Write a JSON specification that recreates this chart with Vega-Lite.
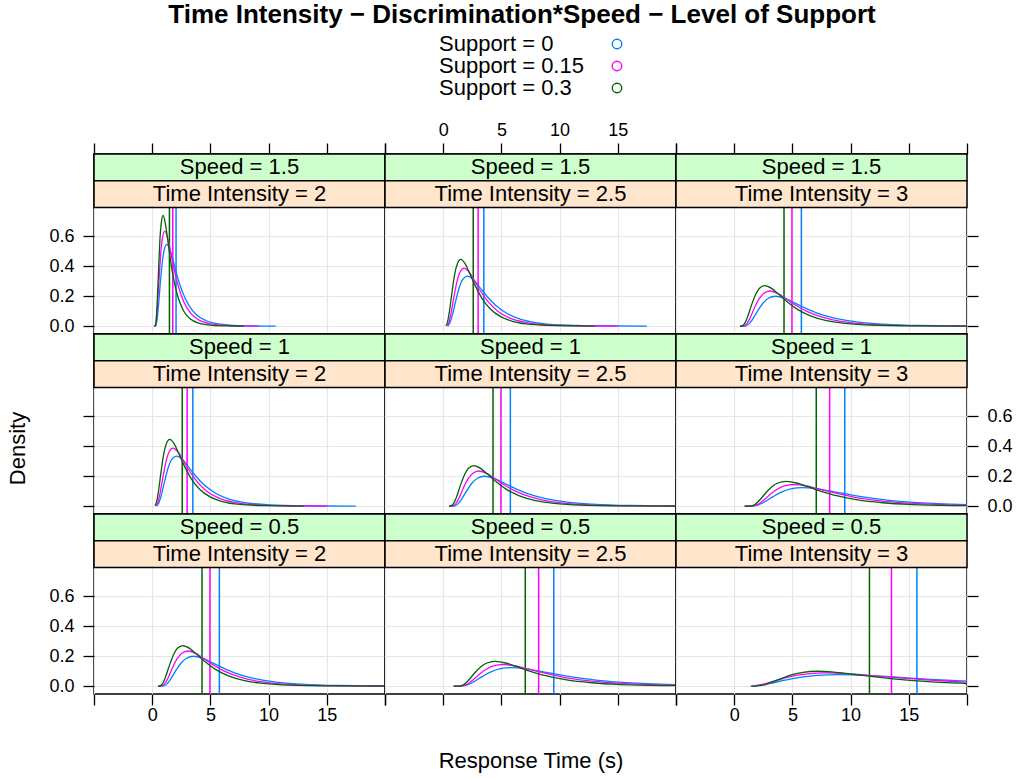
{
"$schema":"https://vega.github.io/schema/vega-lite/v6.json",
"background":"white",
"padding":{"left":5,"top":2,"right":5,"bottom":5},
"title":{"text":"Time Intensity − Discrimination*Speed − Level of Support","fontSize":26,"font":"Liberation Sans","fontWeight":"bold","color":"#000","anchor":"middle","dx":13,"dy":-1},
"datasets":{
"strips":[
{"p":"r0c0","speed":"Speed = 1.5","ti":"Time Intensity = 2"},
{"p":"r0c1","speed":"Speed = 1.5","ti":"Time Intensity = 2.5"},
{"p":"r0c2","speed":"Speed = 1.5","ti":"Time Intensity = 3"},
{"p":"r1c0","speed":"Speed = 1","ti":"Time Intensity = 2"},
{"p":"r1c1","speed":"Speed = 1","ti":"Time Intensity = 2.5"},
{"p":"r1c2","speed":"Speed = 1","ti":"Time Intensity = 3"},
{"p":"r2c0","speed":"Speed = 0.5","ti":"Time Intensity = 2"},
{"p":"r2c1","speed":"Speed = 0.5","ti":"Time Intensity = 2.5"},
{"p":"r2c2","speed":"Speed = 0.5","ti":"Time Intensity = 3"}
],
"means":[
{"g":"A","s":"Support = 0","x":2.05},{"g":"A","s":"Support = 0.15","x":1.77},{"g":"A","s":"Support = 0.3","x":1.48},
{"g":"B","s":"Support = 0","x":3.49},{"g":"B","s":"Support = 0.15","x":3.0},{"g":"B","s":"Support = 0.3","x":2.58},
{"g":"C","s":"Support = 0","x":5.77},{"g":"C","s":"Support = 0.15","x":4.96},{"g":"C","s":"Support = 0.3","x":4.28},
{"g":"D","s":"Support = 0","x":9.5},{"g":"D","s":"Support = 0.15","x":8.2},{"g":"D","s":"Support = 0.3","x":7.05},
{"g":"E","s":"Support = 0","x":15.7},{"g":"E","s":"Support = 0.15","x":13.51},{"g":"E","s":"Support = 0.3","x":11.62}
],
"curves":[
{"g":"A","s":"Support = 0","x":[0.16,0.30,0.41,0.52,0.69,0.86,1.03,1.25,1.53,1.81,2.14,2.59,3.15,3.82,4.60,5.72,7.39,9.63,10.6],"y":[0,0.004,0.038,0.118,0.280,0.422,0.509,0.546,0.509,0.435,0.338,0.230,0.139,0.075,0.038,0.015,0.004,0.001,0.001]},
{"g":"A","s":"Support = 0.15","x":[0.16,0.26,0.36,0.45,0.60,0.74,0.89,1.08,1.32,1.56,1.85,2.24,2.72,3.30,3.97,4.94,6.38,8.31,9.1],"y":[0,0.004,0.044,0.137,0.326,0.491,0.592,0.635,0.592,0.505,0.393,0.268,0.161,0.088,0.044,0.017,0.005,0.001,0.001]},
{"g":"A","s":"Support = 0.3","x":[0.16,0.28,0.35,0.43,0.55,0.66,0.78,0.93,1.12,1.31,1.54,1.85,2.24,2.70,3.23,4.00,5.15,6.69,7.9],"y":[0,0.005,0.051,0.160,0.380,0.572,0.690,0.74,0.690,0.589,0.458,0.312,0.188,0.102,0.051,0.020,0.006,0.0015,0.0005]},
{"g":"B","s":"Support = 0","x":[0.38,0.58,0.78,1.08,1.38,1.68,2.08,2.58,3.08,3.68,4.48,5.48,6.67,8.07,10.07,13.06,17.06,17.5],"y":[0,0.023,0.072,0.171,0.258,0.312,0.334,0.312,0.266,0.207,0.141,0.085,0.046,0.023,0.009,0.003,0.001,0.001]},
{"g":"B","s":"Support = 0.15","x":[0.33,0.50,0.67,0.93,1.19,1.45,1.79,2.22,2.65,3.16,3.85,4.71,5.74,6.94,8.66,11.24,14.68,15.06],"y":[0.003,0.027,0.084,0.199,0.300,0.362,0.388,0.362,0.309,0.240,0.164,0.099,0.054,0.027,0.010,0.003,0.001,0.001]},
{"g":"B","s":"Support = 0.3","x":[0.23,0.38,0.53,0.76,0.98,1.21,1.51,1.89,2.26,2.72,3.32,4.07,4.98,6.03,7.54,9.80,12.82,13.0],"y":[0.003,0.031,0.096,0.229,0.345,0.416,0.446,0.416,0.355,0.276,0.188,0.113,0.062,0.031,0.012,0.004,0.001,0.001]},
{"g":"C","s":"Support = 0","x":[0.5,0.94,1.25,1.55,2.02,2.48,2.94,3.56,4.33,5.10,6.03,7.26,8.81,10.66,12.82,15.91,20.54],"y":[0,0.001,0.014,0.043,0.103,0.155,0.187,0.20,0.187,0.159,0.124,0.084,0.051,0.028,0.014,0.005,0.002]},
{"g":"C","s":"Support = 0.15","x":[0.5,0.80,1.07,1.34,1.73,2.13,2.53,3.06,3.72,4.39,5.18,6.25,7.57,9.16,11.02,13.68,17.66,22.97],"y":[0,0.002,0.016,0.051,0.121,0.182,0.219,0.235,0.219,0.187,0.145,0.099,0.060,0.032,0.016,0.006,0.002,0.0005]},
{"g":"C","s":"Support = 0.3","x":[0.5,0.67,0.90,1.13,1.48,1.82,2.17,2.63,3.21,3.78,4.47,5.40,6.55,7.93,9.54,11.85,15.30,19.91,27.97],"y":[0,0.002,0.019,0.059,0.139,0.209,0.253,0.271,0.253,0.216,0.168,0.114,0.069,0.037,0.019,0.007,0.002,0.0005,0.0001]},
{"g":"D","s":"Support = 0","x":[0.9,1.56,2.07,2.57,3.34,4.10,4.86,5.87,7.14,8.41,9.93,11.95,14.49,17.53,21.08],"y":[0,0.001,0.009,0.027,0.064,0.096,0.116,0.124,0.116,0.099,0.077,0.052,0.031,0.017,0.009]},
{"g":"D","s":"Support = 0.15","x":[0.9,1.53,1.96,2.38,3.02,3.66,4.30,5.15,6.22,7.28,8.56,10.26,12.39,14.95,17.93,22.19],"y":[0,0.001,0.010,0.031,0.074,0.112,0.135,0.145,0.135,0.115,0.090,0.061,0.037,0.020,0.010,0.004]},
{"g":"D","s":"Support = 0.3","x":[0.9,1.41,1.77,2.13,2.67,3.21,3.75,4.47,5.37,6.27,7.35,8.79,10.60,12.76,15.28,18.88,24.29],"y":[0,0.001,0.011,0.036,0.085,0.128,0.155,0.166,0.155,0.132,0.103,0.070,0.042,0.023,0.011,0.004,0.001]},
{"g":"E","s":"Support = 0","x":[1.6,2.02,2.96,4.36,5.75,7.15,9.02,11.35,13.69,16.48,20.22],"y":[0,0.005,0.017,0.040,0.060,0.073,0.078,0.073,0.062,0.048,0.033]},
{"g":"E","s":"Support = 0.15","x":[1.5,1.96,2.75,3.93,5.11,6.30,7.87,9.84,11.81,14.17,17.32,21.26],"y":[0,0.006,0.019,0.046,0.069,0.083,0.089,0.083,0.071,0.055,0.038,0.023]},
{"g":"E","s":"Support = 0.3","x":[1.42,1.84,2.47,3.09,4.03,4.97,5.90,7.15,8.71,10.27,12.14,14.64,17.76,21.51],"y":[0,0.001,0.007,0.022,0.051,0.077,0.093,0.10,0.093,0.080,0.062,0.042,0.025,0.014]}
]
},
"columns":3,
"spacing":0,
"bounds":"flush",
"concat":[
{"width":291,"height":180,"layer":[
{"data":{"name":"means"},"transform":[{"filter":"datum.g=='A'"}],"mark":{"type":"rule","strokeWidth":1.5},"encoding":{"x":{"field":"x","type":"quantitative","scale":{"domain":[-5,20],"nice":false,"zero":false},"axis":{"orient":"top","values":[-5,0,5,10,15,20],"labels":false,"grid":true,"title":null}},"color":{"field":"s","type":"nominal","scale":{"domain":["Support = 0","Support = 0.15","Support = 0.3"],"range":["#0080ff","#ff00ff","#006400"]},"legend":{"title":null}}}},
{"data":{"name":"curves"},"transform":[{"filter":"datum.g=='A'"},{"flatten":["x","y"]}],"mark":{"type":"line","interpolate":"monotone","clip":true,"strokeWidth":1.3},"encoding":{"x":{"field":"x","type":"quantitative","scale":{"domain":[-5,20],"nice":false,"zero":false},"axis":{"orient":"top","values":[-5,0,5,10,15,20],"labels":false,"grid":true,"title":null}},"y":{"field":"y","type":"quantitative","scale":{"domain":[-0.052,1.15],"nice":false,"zero":false},"axis":{"orient":"left","values":[0,0.2,0.4,0.6],"format":".1f","grid":true,"title":null}},"color":{"field":"s","type":"nominal","scale":{"domain":["Support = 0","Support = 0.15","Support = 0.3"],"range":["#0080ff","#ff00ff","#006400"]},"legend":{"title":null}}}},
{"data":{"name":"strips"},"transform":[{"filter":"datum.p=='r0c0'"}],"mark":{"type":"rect","fill":"#ccffcc","stroke":"#000","strokeWidth":1.5},"encoding":{"x":{"datum":-5},"x2":{"datum":20},"y":{"datum":0.9716},"y2":{"datum":1.15}}},
{"data":{"name":"strips"},"transform":[{"filter":"datum.p=='r0c0'"}],"mark":{"type":"rect","fill":"#ffe5cc","stroke":"#000","strokeWidth":1.5},"encoding":{"x":{"datum":-5},"x2":{"datum":20},"y":{"datum":0.793},"y2":{"datum":0.9716}}},
{"data":{"name":"strips"},"transform":[{"filter":"datum.p=='r0c0'"}],"mark":{"type":"text","fontSize":22,"baseline":"middle","color":"#000"},"encoding":{"x":{"datum":7.5},"y":{"datum":1.0608},"text":{"field":"speed"}}},
{"data":{"name":"strips"},"transform":[{"filter":"datum.p=='r0c0'"}],"mark":{"type":"text","fontSize":22,"baseline":"middle","color":"#000"},"encoding":{"x":{"datum":7.5},"y":{"datum":0.8823},"text":{"field":"ti"}}}
]},
{"width":291,"height":180,"layer":[
{"data":{"name":"means"},"transform":[{"filter":"datum.g=='B'"}],"mark":{"type":"rule","strokeWidth":1.5},"encoding":{"x":{"field":"x","type":"quantitative","scale":{"domain":[-5,20],"nice":false,"zero":false},"axis":{"orient":"top","values":[-5,0,5,10,15,20],"labelExpr":"datum.value < -1 || datum.value > 19 ? '' : datum.label","labelPadding":4,"grid":true,"title":null}},"color":{"field":"s","type":"nominal","scale":{"domain":["Support = 0","Support = 0.15","Support = 0.3"],"range":["#0080ff","#ff00ff","#006400"]},"legend":{"title":null}}}},
{"data":{"name":"curves"},"transform":[{"filter":"datum.g=='B'"},{"flatten":["x","y"]}],"mark":{"type":"line","interpolate":"monotone","clip":true,"strokeWidth":1.3},"encoding":{"x":{"field":"x","type":"quantitative","scale":{"domain":[-5,20],"nice":false,"zero":false},"axis":{"orient":"top","values":[-5,0,5,10,15,20],"labelExpr":"datum.value < -1 || datum.value > 19 ? '' : datum.label","labelPadding":4,"grid":true,"title":null}},"y":{"field":"y","type":"quantitative","scale":{"domain":[-0.052,1.15],"nice":false,"zero":false},"axis":{"values":[0,0.2,0.4,0.6],"labels":false,"ticks":false,"grid":true,"title":null}},"color":{"field":"s","type":"nominal","scale":{"domain":["Support = 0","Support = 0.15","Support = 0.3"],"range":["#0080ff","#ff00ff","#006400"]},"legend":{"title":null}}}},
{"data":{"name":"strips"},"transform":[{"filter":"datum.p=='r0c1'"}],"mark":{"type":"rect","fill":"#ccffcc","stroke":"#000","strokeWidth":1.5},"encoding":{"x":{"datum":-5},"x2":{"datum":20},"y":{"datum":0.9716},"y2":{"datum":1.15}}},
{"data":{"name":"strips"},"transform":[{"filter":"datum.p=='r0c1'"}],"mark":{"type":"rect","fill":"#ffe5cc","stroke":"#000","strokeWidth":1.5},"encoding":{"x":{"datum":-5},"x2":{"datum":20},"y":{"datum":0.793},"y2":{"datum":0.9716}}},
{"data":{"name":"strips"},"transform":[{"filter":"datum.p=='r0c1'"}],"mark":{"type":"text","fontSize":22,"baseline":"middle","color":"#000"},"encoding":{"x":{"datum":7.5},"y":{"datum":1.0608},"text":{"field":"speed"}}},
{"data":{"name":"strips"},"transform":[{"filter":"datum.p=='r0c1'"}],"mark":{"type":"text","fontSize":22,"baseline":"middle","color":"#000"},"encoding":{"x":{"datum":7.5},"y":{"datum":0.8823},"text":{"field":"ti"}}}
]},
{"width":291,"height":180,"layer":[
{"data":{"name":"means"},"transform":[{"filter":"datum.g=='C'"}],"mark":{"type":"rule","strokeWidth":1.5},"encoding":{"x":{"field":"x","type":"quantitative","scale":{"domain":[-5,20],"nice":false,"zero":false},"axis":{"orient":"top","values":[-5,0,5,10,15,20],"labels":false,"grid":true,"title":null}},"color":{"field":"s","type":"nominal","scale":{"domain":["Support = 0","Support = 0.15","Support = 0.3"],"range":["#0080ff","#ff00ff","#006400"]},"legend":{"title":null}}}},
{"data":{"name":"curves"},"transform":[{"filter":"datum.g=='C'"},{"flatten":["x","y"]}],"mark":{"type":"line","interpolate":"monotone","clip":true,"strokeWidth":1.3},"encoding":{"x":{"field":"x","type":"quantitative","scale":{"domain":[-5,20],"nice":false,"zero":false},"axis":{"orient":"top","values":[-5,0,5,10,15,20],"labels":false,"grid":true,"title":null}},"y":{"field":"y","type":"quantitative","scale":{"domain":[-0.052,1.15],"nice":false,"zero":false},"axis":{"orient":"right","values":[0,0.2,0.4,0.6],"labels":false,"grid":true,"title":null}},"color":{"field":"s","type":"nominal","scale":{"domain":["Support = 0","Support = 0.15","Support = 0.3"],"range":["#0080ff","#ff00ff","#006400"]},"legend":{"title":null}}}},
{"data":{"name":"strips"},"transform":[{"filter":"datum.p=='r0c2'"}],"mark":{"type":"rect","fill":"#ccffcc","stroke":"#000","strokeWidth":1.5},"encoding":{"x":{"datum":-5},"x2":{"datum":20},"y":{"datum":0.9716},"y2":{"datum":1.15}}},
{"data":{"name":"strips"},"transform":[{"filter":"datum.p=='r0c2'"}],"mark":{"type":"rect","fill":"#ffe5cc","stroke":"#000","strokeWidth":1.5},"encoding":{"x":{"datum":-5},"x2":{"datum":20},"y":{"datum":0.793},"y2":{"datum":0.9716}}},
{"data":{"name":"strips"},"transform":[{"filter":"datum.p=='r0c2'"}],"mark":{"type":"text","fontSize":22,"baseline":"middle","color":"#000"},"encoding":{"x":{"datum":7.5},"y":{"datum":1.0608},"text":{"field":"speed"}}},
{"data":{"name":"strips"},"transform":[{"filter":"datum.p=='r0c2'"}],"mark":{"type":"text","fontSize":22,"baseline":"middle","color":"#000"},"encoding":{"x":{"datum":7.5},"y":{"datum":0.8823},"text":{"field":"ti"}}}
]},
{"width":291,"height":180,"layer":[
{"data":{"name":"means"},"transform":[{"filter":"datum.g=='B'"}],"mark":{"type":"rule","strokeWidth":1.5},"encoding":{"x":{"field":"x","type":"quantitative","scale":{"domain":[-5,20],"nice":false,"zero":false},"axis":{"values":[-5,0,5,10,15,20],"labels":false,"ticks":false,"grid":true,"title":null}},"color":{"field":"s","type":"nominal","scale":{"domain":["Support = 0","Support = 0.15","Support = 0.3"],"range":["#0080ff","#ff00ff","#006400"]},"legend":{"title":null}}}},
{"data":{"name":"curves"},"transform":[{"filter":"datum.g=='B'"},{"flatten":["x","y"]}],"mark":{"type":"line","interpolate":"monotone","clip":true,"strokeWidth":1.3},"encoding":{"x":{"field":"x","type":"quantitative","scale":{"domain":[-5,20],"nice":false,"zero":false},"axis":{"values":[-5,0,5,10,15,20],"labels":false,"ticks":false,"grid":true,"title":null}},"y":{"field":"y","type":"quantitative","scale":{"domain":[-0.052,1.15],"nice":false,"zero":false},"axis":{"orient":"left","values":[0,0.2,0.4,0.6],"labels":false,"grid":true,"title":"Density","titleFontSize":22,"titleFontWeight":"normal","titleX":-70,"titleY":114,"titleAngle":270,"titleBaseline":"alphabetic","titleAlign":"center"}},"color":{"field":"s","type":"nominal","scale":{"domain":["Support = 0","Support = 0.15","Support = 0.3"],"range":["#0080ff","#ff00ff","#006400"]},"legend":{"title":null}}}},
{"data":{"name":"strips"},"transform":[{"filter":"datum.p=='r1c0'"}],"mark":{"type":"rect","fill":"#ccffcc","stroke":"#000","strokeWidth":1.5},"encoding":{"x":{"datum":-5},"x2":{"datum":20},"y":{"datum":0.9716},"y2":{"datum":1.15}}},
{"data":{"name":"strips"},"transform":[{"filter":"datum.p=='r1c0'"}],"mark":{"type":"rect","fill":"#ffe5cc","stroke":"#000","strokeWidth":1.5},"encoding":{"x":{"datum":-5},"x2":{"datum":20},"y":{"datum":0.793},"y2":{"datum":0.9716}}},
{"data":{"name":"strips"},"transform":[{"filter":"datum.p=='r1c0'"}],"mark":{"type":"text","fontSize":22,"baseline":"middle","color":"#000"},"encoding":{"x":{"datum":7.5},"y":{"datum":1.0608},"text":{"field":"speed"}}},
{"data":{"name":"strips"},"transform":[{"filter":"datum.p=='r1c0'"}],"mark":{"type":"text","fontSize":22,"baseline":"middle","color":"#000"},"encoding":{"x":{"datum":7.5},"y":{"datum":0.8823},"text":{"field":"ti"}}}
]},
{"width":291,"height":180,"layer":[
{"data":{"name":"means"},"transform":[{"filter":"datum.g=='C'"}],"mark":{"type":"rule","strokeWidth":1.5},"encoding":{"x":{"field":"x","type":"quantitative","scale":{"domain":[-5,20],"nice":false,"zero":false},"axis":{"values":[-5,0,5,10,15,20],"labels":false,"ticks":false,"grid":true,"title":null}},"color":{"field":"s","type":"nominal","scale":{"domain":["Support = 0","Support = 0.15","Support = 0.3"],"range":["#0080ff","#ff00ff","#006400"]},"legend":{"title":null}}}},
{"data":{"name":"curves"},"transform":[{"filter":"datum.g=='C'"},{"flatten":["x","y"]}],"mark":{"type":"line","interpolate":"monotone","clip":true,"strokeWidth":1.3},"encoding":{"x":{"field":"x","type":"quantitative","scale":{"domain":[-5,20],"nice":false,"zero":false},"axis":{"values":[-5,0,5,10,15,20],"labels":false,"ticks":false,"grid":true,"title":null}},"y":{"field":"y","type":"quantitative","scale":{"domain":[-0.052,1.15],"nice":false,"zero":false},"axis":{"values":[0,0.2,0.4,0.6],"labels":false,"ticks":false,"grid":true,"title":null}},"color":{"field":"s","type":"nominal","scale":{"domain":["Support = 0","Support = 0.15","Support = 0.3"],"range":["#0080ff","#ff00ff","#006400"]},"legend":{"title":null}}}},
{"data":{"name":"strips"},"transform":[{"filter":"datum.p=='r1c1'"}],"mark":{"type":"rect","fill":"#ccffcc","stroke":"#000","strokeWidth":1.5},"encoding":{"x":{"datum":-5},"x2":{"datum":20},"y":{"datum":0.9716},"y2":{"datum":1.15}}},
{"data":{"name":"strips"},"transform":[{"filter":"datum.p=='r1c1'"}],"mark":{"type":"rect","fill":"#ffe5cc","stroke":"#000","strokeWidth":1.5},"encoding":{"x":{"datum":-5},"x2":{"datum":20},"y":{"datum":0.793},"y2":{"datum":0.9716}}},
{"data":{"name":"strips"},"transform":[{"filter":"datum.p=='r1c1'"}],"mark":{"type":"text","fontSize":22,"baseline":"middle","color":"#000"},"encoding":{"x":{"datum":7.5},"y":{"datum":1.0608},"text":{"field":"speed"}}},
{"data":{"name":"strips"},"transform":[{"filter":"datum.p=='r1c1'"}],"mark":{"type":"text","fontSize":22,"baseline":"middle","color":"#000"},"encoding":{"x":{"datum":7.5},"y":{"datum":0.8823},"text":{"field":"ti"}}}
]},
{"width":291,"height":180,"layer":[
{"data":{"name":"means"},"transform":[{"filter":"datum.g=='D'"}],"mark":{"type":"rule","strokeWidth":1.5},"encoding":{"x":{"field":"x","type":"quantitative","scale":{"domain":[-5,20],"nice":false,"zero":false},"axis":{"values":[-5,0,5,10,15,20],"labels":false,"ticks":false,"grid":true,"title":null}},"color":{"field":"s","type":"nominal","scale":{"domain":["Support = 0","Support = 0.15","Support = 0.3"],"range":["#0080ff","#ff00ff","#006400"]},"legend":{"title":null}}}},
{"data":{"name":"curves"},"transform":[{"filter":"datum.g=='D'"},{"flatten":["x","y"]}],"mark":{"type":"line","interpolate":"monotone","clip":true,"strokeWidth":1.3},"encoding":{"x":{"field":"x","type":"quantitative","scale":{"domain":[-5,20],"nice":false,"zero":false},"axis":{"values":[-5,0,5,10,15,20],"labels":false,"ticks":false,"grid":true,"title":null}},"y":{"field":"y","type":"quantitative","scale":{"domain":[-0.052,1.15],"nice":false,"zero":false},"axis":{"orient":"right","values":[0,0.2,0.4,0.6],"format":".1f","grid":true,"title":null}},"color":{"field":"s","type":"nominal","scale":{"domain":["Support = 0","Support = 0.15","Support = 0.3"],"range":["#0080ff","#ff00ff","#006400"]},"legend":{"title":null}}}},
{"data":{"name":"strips"},"transform":[{"filter":"datum.p=='r1c2'"}],"mark":{"type":"rect","fill":"#ccffcc","stroke":"#000","strokeWidth":1.5},"encoding":{"x":{"datum":-5},"x2":{"datum":20},"y":{"datum":0.9716},"y2":{"datum":1.15}}},
{"data":{"name":"strips"},"transform":[{"filter":"datum.p=='r1c2'"}],"mark":{"type":"rect","fill":"#ffe5cc","stroke":"#000","strokeWidth":1.5},"encoding":{"x":{"datum":-5},"x2":{"datum":20},"y":{"datum":0.793},"y2":{"datum":0.9716}}},
{"data":{"name":"strips"},"transform":[{"filter":"datum.p=='r1c2'"}],"mark":{"type":"text","fontSize":22,"baseline":"middle","color":"#000"},"encoding":{"x":{"datum":7.5},"y":{"datum":1.0608},"text":{"field":"speed"}}},
{"data":{"name":"strips"},"transform":[{"filter":"datum.p=='r1c2'"}],"mark":{"type":"text","fontSize":22,"baseline":"middle","color":"#000"},"encoding":{"x":{"datum":7.5},"y":{"datum":0.8823},"text":{"field":"ti"}}}
]},
{"width":291,"height":180,"layer":[
{"data":{"name":"means"},"transform":[{"filter":"datum.g=='C'"}],"mark":{"type":"rule","strokeWidth":1.5},"encoding":{"x":{"field":"x","type":"quantitative","scale":{"domain":[-5,20],"nice":false,"zero":false},"axis":{"orient":"bottom","values":[-5,0,5,10,15,20],"labelExpr":"datum.value < -1 || datum.value > 19 ? '' : datum.label","labelPadding":1,"grid":true,"title":null}},"color":{"field":"s","type":"nominal","scale":{"domain":["Support = 0","Support = 0.15","Support = 0.3"],"range":["#0080ff","#ff00ff","#006400"]},"legend":{"title":null}}}},
{"data":{"name":"curves"},"transform":[{"filter":"datum.g=='C'"},{"flatten":["x","y"]}],"mark":{"type":"line","interpolate":"monotone","clip":true,"strokeWidth":1.3},"encoding":{"x":{"field":"x","type":"quantitative","scale":{"domain":[-5,20],"nice":false,"zero":false},"axis":{"orient":"bottom","values":[-5,0,5,10,15,20],"labelExpr":"datum.value < -1 || datum.value > 19 ? '' : datum.label","labelPadding":1,"grid":true,"title":null}},"y":{"field":"y","type":"quantitative","scale":{"domain":[-0.052,1.15],"nice":false,"zero":false},"axis":{"orient":"left","values":[0,0.2,0.4,0.6],"format":".1f","grid":true,"title":null}},"color":{"field":"s","type":"nominal","scale":{"domain":["Support = 0","Support = 0.15","Support = 0.3"],"range":["#0080ff","#ff00ff","#006400"]},"legend":{"title":null}}}},
{"data":{"name":"strips"},"transform":[{"filter":"datum.p=='r2c0'"}],"mark":{"type":"rect","fill":"#ccffcc","stroke":"#000","strokeWidth":1.5},"encoding":{"x":{"datum":-5},"x2":{"datum":20},"y":{"datum":0.9716},"y2":{"datum":1.15}}},
{"data":{"name":"strips"},"transform":[{"filter":"datum.p=='r2c0'"}],"mark":{"type":"rect","fill":"#ffe5cc","stroke":"#000","strokeWidth":1.5},"encoding":{"x":{"datum":-5},"x2":{"datum":20},"y":{"datum":0.793},"y2":{"datum":0.9716}}},
{"data":{"name":"strips"},"transform":[{"filter":"datum.p=='r2c0'"}],"mark":{"type":"text","fontSize":22,"baseline":"middle","color":"#000"},"encoding":{"x":{"datum":7.5},"y":{"datum":1.0608},"text":{"field":"speed"}}},
{"data":{"name":"strips"},"transform":[{"filter":"datum.p=='r2c0'"}],"mark":{"type":"text","fontSize":22,"baseline":"middle","color":"#000"},"encoding":{"x":{"datum":7.5},"y":{"datum":0.8823},"text":{"field":"ti"}}}
]},
{"width":291,"height":180,"layer":[
{"data":{"name":"means"},"transform":[{"filter":"datum.g=='D'"}],"mark":{"type":"rule","strokeWidth":1.5},"encoding":{"x":{"field":"x","type":"quantitative","scale":{"domain":[-5,20],"nice":false,"zero":false},"axis":{"orient":"bottom","values":[-5,0,5,10,15,20],"labels":false,"grid":true,"title":"Response Time (s)","titleFontSize":22,"titleFontWeight":"normal","titleX":145.5,"titleY":73,"titleBaseline":"alphabetic","titleAlign":"center"}},"color":{"field":"s","type":"nominal","scale":{"domain":["Support = 0","Support = 0.15","Support = 0.3"],"range":["#0080ff","#ff00ff","#006400"]},"legend":{"title":null}}}},
{"data":{"name":"curves"},"transform":[{"filter":"datum.g=='D'"},{"flatten":["x","y"]}],"mark":{"type":"line","interpolate":"monotone","clip":true,"strokeWidth":1.3},"encoding":{"x":{"field":"x","type":"quantitative","scale":{"domain":[-5,20],"nice":false,"zero":false},"axis":{"orient":"bottom","values":[-5,0,5,10,15,20],"labels":false,"grid":true,"title":"Response Time (s)","titleFontSize":22,"titleFontWeight":"normal","titleX":145.5,"titleY":73,"titleBaseline":"alphabetic","titleAlign":"center"}},"y":{"field":"y","type":"quantitative","scale":{"domain":[-0.052,1.15],"nice":false,"zero":false},"axis":{"values":[0,0.2,0.4,0.6],"labels":false,"ticks":false,"grid":true,"title":null}},"color":{"field":"s","type":"nominal","scale":{"domain":["Support = 0","Support = 0.15","Support = 0.3"],"range":["#0080ff","#ff00ff","#006400"]},"legend":{"title":null}}}},
{"data":{"name":"strips"},"transform":[{"filter":"datum.p=='r2c1'"}],"mark":{"type":"rect","fill":"#ccffcc","stroke":"#000","strokeWidth":1.5},"encoding":{"x":{"datum":-5},"x2":{"datum":20},"y":{"datum":0.9716},"y2":{"datum":1.15}}},
{"data":{"name":"strips"},"transform":[{"filter":"datum.p=='r2c1'"}],"mark":{"type":"rect","fill":"#ffe5cc","stroke":"#000","strokeWidth":1.5},"encoding":{"x":{"datum":-5},"x2":{"datum":20},"y":{"datum":0.793},"y2":{"datum":0.9716}}},
{"data":{"name":"strips"},"transform":[{"filter":"datum.p=='r2c1'"}],"mark":{"type":"text","fontSize":22,"baseline":"middle","color":"#000"},"encoding":{"x":{"datum":7.5},"y":{"datum":1.0608},"text":{"field":"speed"}}},
{"data":{"name":"strips"},"transform":[{"filter":"datum.p=='r2c1'"}],"mark":{"type":"text","fontSize":22,"baseline":"middle","color":"#000"},"encoding":{"x":{"datum":7.5},"y":{"datum":0.8823},"text":{"field":"ti"}}}
]},
{"width":291,"height":180,"layer":[
{"data":{"name":"means"},"transform":[{"filter":"datum.g=='E'"}],"mark":{"type":"rule","strokeWidth":1.5},"encoding":{"x":{"field":"x","type":"quantitative","scale":{"domain":[-5,20],"nice":false,"zero":false},"axis":{"orient":"bottom","values":[-5,0,5,10,15,20],"labelExpr":"datum.value < -1 || datum.value > 19 ? '' : datum.label","labelPadding":1,"grid":true,"title":null}},"color":{"field":"s","type":"nominal","scale":{"domain":["Support = 0","Support = 0.15","Support = 0.3"],"range":["#0080ff","#ff00ff","#006400"]},"legend":{"title":null}}}},
{"data":{"name":"curves"},"transform":[{"filter":"datum.g=='E'"},{"flatten":["x","y"]}],"mark":{"type":"line","interpolate":"monotone","clip":true,"strokeWidth":1.3},"encoding":{"x":{"field":"x","type":"quantitative","scale":{"domain":[-5,20],"nice":false,"zero":false},"axis":{"orient":"bottom","values":[-5,0,5,10,15,20],"labelExpr":"datum.value < -1 || datum.value > 19 ? '' : datum.label","labelPadding":1,"grid":true,"title":null}},"y":{"field":"y","type":"quantitative","scale":{"domain":[-0.052,1.15],"nice":false,"zero":false},"axis":{"orient":"right","values":[0,0.2,0.4,0.6],"labels":false,"grid":true,"title":null}},"color":{"field":"s","type":"nominal","scale":{"domain":["Support = 0","Support = 0.15","Support = 0.3"],"range":["#0080ff","#ff00ff","#006400"]},"legend":{"title":null}}}},
{"data":{"name":"strips"},"transform":[{"filter":"datum.p=='r2c2'"}],"mark":{"type":"rect","fill":"#ccffcc","stroke":"#000","strokeWidth":1.5},"encoding":{"x":{"datum":-5},"x2":{"datum":20},"y":{"datum":0.9716},"y2":{"datum":1.15}}},
{"data":{"name":"strips"},"transform":[{"filter":"datum.p=='r2c2'"}],"mark":{"type":"rect","fill":"#ffe5cc","stroke":"#000","strokeWidth":1.5},"encoding":{"x":{"datum":-5},"x2":{"datum":20},"y":{"datum":0.793},"y2":{"datum":0.9716}}},
{"data":{"name":"strips"},"transform":[{"filter":"datum.p=='r2c2'"}],"mark":{"type":"text","fontSize":22,"baseline":"middle","color":"#000"},"encoding":{"x":{"datum":7.5},"y":{"datum":1.0608},"text":{"field":"speed"}}},
{"data":{"name":"strips"},"transform":[{"filter":"datum.p=='r2c2'"}],"mark":{"type":"text","fontSize":22,"baseline":"middle","color":"#000"},"encoding":{"x":{"datum":7.5},"y":{"datum":0.8823},"text":{"field":"ti"}}}
]}
],
"config":{
"font":"Liberation Sans",
"view":{"stroke":"#000","strokeWidth":1.5},
"axis":{"domain":false,"tickColor":"#000","tickWidth":1.3,"tickSize":11,"labelFontSize":18,"labelColor":"#000","labelFont":"Liberation Sans","titleFont":"Liberation Sans","titleColor":"#000","gridColor":"#e6e6e6","gridWidth":1.2,"labelPadding":9,"labelFlush":false,"labelOverlap":false,"labelBound":false},
"legend":{"orient":"none","legendX":512,"legendY":-121,"padding":0,"labelFontSize":22,"labelFont":"Liberation Sans","labelColor":"#000","symbolType":"circle","symbolSize":90,"symbolStrokeWidth":1.4,"labelOffset":-189,"rowPadding":0,"labelAlign":"left"},
"text":{"font":"Liberation Sans"}
}
}
